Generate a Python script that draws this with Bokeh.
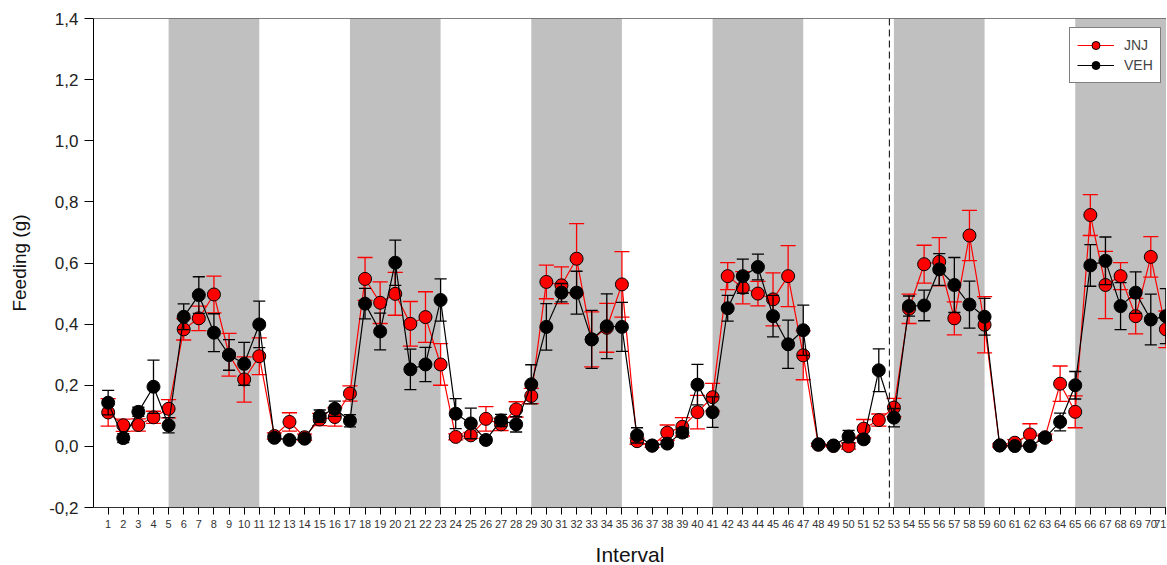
from bokeh.plotting import figure
from bokeh.models import (FixedTicker, CustomJSTickFormatter, Span, Legend, LegendItem,
                          ColumnDataSource)
from bokeh.embed import file_html
from bokeh.resources import INLINE

intervals = list(range(1, 72))

jnj_mean = [0.111, 0.069, 0.070, 0.095, 0.123, 0.383, 0.419, 0.497, 0.300, 0.219,
            0.295, 0.034, 0.080, 0.030, 0.088, 0.096, 0.173, 0.548, 0.470, 0.499,
            0.401, 0.423, 0.268, 0.031, 0.036, 0.090, 0.072, 0.121, 0.165, 0.538,
            0.527, 0.614, 0.350, 0.388, 0.530, 0.017, 0.002, 0.045, 0.064, 0.112,
            0.161, 0.557, 0.519, 0.500, 0.481, 0.557, 0.298, 0.005, 0.001, 0.001,
            0.058, 0.086, 0.127, 0.450, 0.596, 0.604, 0.419, 0.690, 0.398, 0.003,
            0.012, 0.039, 0.030, 0.205, 0.113, 0.757, 0.528, 0.557, 0.426, 0.620,
            0.383]
jnj_sem = [0.045, 0.020, 0.020, 0.020, 0.030, 0.035, 0.040, 0.060, 0.070, 0.074,
           0.060, 0.010, 0.030, 0.010, 0.020, 0.030, 0.025, 0.070, 0.068, 0.070,
           0.073, 0.083, 0.068, 0.010, 0.010, 0.040, 0.020, 0.025, 0.025, 0.055,
           0.060, 0.115, 0.090, 0.080, 0.107, 0.010, 0.005, 0.025, 0.030, 0.055,
           0.045, 0.044, 0.053, 0.040, 0.087, 0.100, 0.080, 0.005, 0.003, 0.010,
           0.030, 0.020, 0.030, 0.048, 0.062, 0.079, 0.054, 0.082, 0.092, 0.005,
           0.010, 0.035, 0.010, 0.058, 0.052, 0.067, 0.110, 0.044, 0.058, 0.066,
           0.060]
veh_mean = [0.143, 0.027, 0.113, 0.195, 0.069, 0.424, 0.495, 0.372, 0.299, 0.270,
            0.399, 0.028, 0.021, 0.025, 0.099, 0.123, 0.084, 0.467, 0.376, 0.601,
            0.252, 0.268, 0.479, 0.107, 0.075, 0.021, 0.085, 0.072, 0.203, 0.391,
            0.503, 0.503, 0.350, 0.393, 0.391, 0.036, 0.003, 0.009, 0.045, 0.202,
            0.112, 0.452, 0.557, 0.587, 0.426, 0.334, 0.380, 0.007, 0.003, 0.032,
            0.023, 0.249, 0.094, 0.459, 0.461, 0.579, 0.528, 0.464, 0.424, 0.003,
            0.001, 0.001, 0.028, 0.080, 0.200, 0.592, 0.607, 0.459, 0.503, 0.415,
            0.426]
veh_sem = [0.040, 0.015, 0.015, 0.087, 0.025, 0.042, 0.060, 0.062, 0.050, 0.070,
           0.076, 0.010, 0.005, 0.010, 0.020, 0.025, 0.020, 0.050, 0.060, 0.074,
           0.066, 0.056, 0.069, 0.049, 0.050, 0.010, 0.020, 0.025, 0.064, 0.076,
           0.030, 0.070, 0.095, 0.106, 0.080, 0.025, 0.005, 0.010, 0.015, 0.066,
           0.050, 0.042, 0.056, 0.042, 0.068, 0.079, 0.082, 0.005, 0.003, 0.020,
           0.010, 0.070, 0.030, 0.033, 0.050, 0.052, 0.090, 0.077, 0.060, 0.005,
           0.003, 0.003, 0.010, 0.029, 0.045, 0.068, 0.078, 0.077, 0.068, 0.083,
           0.090]

dark_start = [5, 17, 29, 41, 53, 65]
dark_end = [11, 23, 35, 47, 59, 72]
switch_at = 52.7
y_ticks = [-0.2, 0.0, 0.2, 0.4, 0.6, 0.8, 1.0, 1.2, 1.4]

X0, X1, Y0, Y1 = 0.03, 71.04, -0.2, 1.4
FONT = "Liberation Sans"

p = figure(frame_width=1073, frame_height=489, x_range=(X0, X1), y_range=(Y0, Y1),
           output_backend="svg", toolbar_location=None,
           min_border_left=93, min_border_top=18, min_border_right=0, min_border_bottom=55)
p.grid.visible = False
p.outline_line_color = None
p.background_fill_color = "white"

# dark-phase bands
p.quad(left=dark_start, right=dark_end, bottom=Y0, top=Y1,
       fill_color="#C0C0C0", line_color=None)

p.add_layout(Span(location=switch_at, dimension="height", line_color="black",
                  line_width=1, line_dash="7 4"))
p.add_layout(Span(location=Y1, dimension="width", line_color="black", line_width=1))


def series(mean, sem, color, cap_half):
    lo = [m - s for m, s in zip(mean, sem)]
    hi = [m + s for m, s in zip(mean, sem)]
    src = ColumnDataSource(dict(x=intervals, y=mean, lo=lo, hi=hi,
                                xl=[v - cap_half for v in intervals],
                                xr=[v + cap_half for v in intervals]))
    p.segment(x0="x", y0="lo", x1="x", y1="hi", source=src, line_color=color, line_width=1.3)
    p.segment(x0="xl", y0="hi", x1="xr", y1="hi", source=src, line_color=color, line_width=1.3)
    p.segment(x0="xl", y0="lo", x1="xr", y1="lo", source=src, line_color=color, line_width=1.3)
    ln = p.line("x", "y", source=src, line_color=color, line_width=1.2)
    sc = p.scatter("x", "y", source=src, size=13, fill_color=color,
                   line_color="black", line_width=1)
    return ln, sc


r_ln, r_sc = series(jnj_mean, jnj_sem, "#FF0000", 0.5)
b_ln, b_sc = series(veh_mean, veh_sem, "black", 0.4)

legend = Legend(items=[LegendItem(label="JNJ", renderers=[r_ln, r_sc]),
                       LegendItem(label="VEH", renderers=[b_ln, b_sc])],
                location=(976, 424), margin=0, padding=7, spacing=0,
                glyph_width=37, glyph_height=20, label_standoff=10,
                label_text_font=FONT, label_text_font_size="14px",
                border_line_color="black", border_line_width=1,
                background_fill_color="white", background_fill_alpha=1)
p.add_layout(legend)

# axes
p.yaxis.ticker = FixedTicker(ticks=y_ticks)
p.yaxis.formatter = CustomJSTickFormatter(code="return tick.toFixed(1).replace('.', ',');")
p.yaxis.axis_label = "Feeding (g)"
p.yaxis.axis_label_text_font = FONT
p.yaxis.axis_label_text_font_style = "normal"
p.yaxis.axis_label_text_font_size = "19px"
p.yaxis.axis_label_text_color = "#111111"
p.yaxis.axis_label_standoff = 16
p.yaxis.major_label_text_font = FONT
p.yaxis.major_label_text_font_size = "17px"
p.yaxis.major_label_text_color = "#222222"
p.yaxis.major_label_standoff = 6
p.yaxis.major_tick_out = 9
p.yaxis.major_tick_in = 0
p.yaxis.minor_tick_out = 0
p.yaxis.minor_tick_in = 0
p.yaxis.axis_line_color = "black"

p.xaxis.ticker = FixedTicker(ticks=intervals)
p.xaxis.axis_label = "Interval"
p.xaxis.axis_label_text_font = FONT
p.xaxis.axis_label_text_font_style = "normal"
p.xaxis.axis_label_text_font_size = "21px"
p.xaxis.axis_label_text_color = "#111111"
p.xaxis.axis_label_standoff = 12
p.xaxis.major_label_text_font = FONT
p.xaxis.major_label_text_font_size = "11px"
p.xaxis.major_label_text_color = "#333333"
p.xaxis.major_label_standoff = 5
p.xaxis.major_tick_out = 7
p.xaxis.major_tick_in = 0
p.xaxis.minor_tick_out = 0
p.xaxis.minor_tick_in = 0
p.xaxis.axis_line_color = "#333333"

open("out.html", "w").write(file_html(p, INLINE))
